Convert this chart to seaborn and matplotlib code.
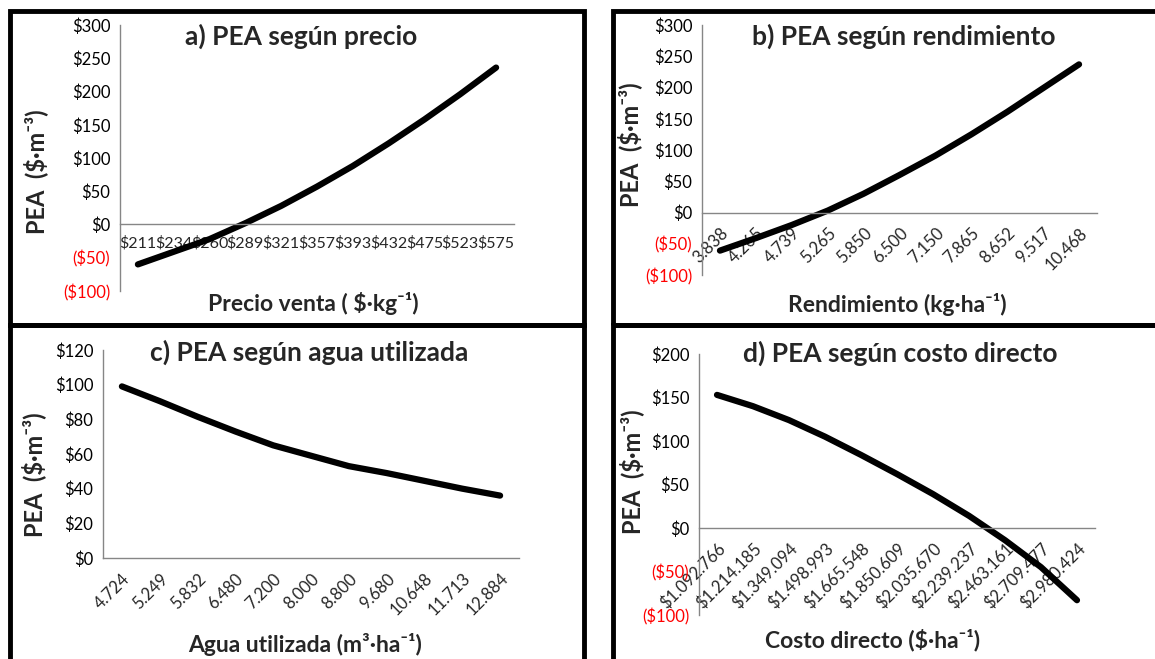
import matplotlib
matplotlib.use("Agg")
import matplotlib.pyplot as plt
from matplotlib.patches import Rectangle
import seaborn as sns

# values
precio_labels = ["$211", "$234", "$260", "$289", "$321", "$357", "$393", "$432", "$475", "$523", "$575"]
pea_precio = [-60, -41, -22, 2, 28, 57, 88, 122, 158, 196, 236]

rend_labels = ["3.838", "4.265", "4.739", "5.265", "5.850", "6.500", "7.150", "7.865", "8.652", "9.517", "10.468"]
pea_rend = [-61, -41, -20, 3, 30, 60, 91, 125, 161, 199, 237]

agua_labels = ["4.724", "5.249", "5.832", "6.480", "7.200", "8.000", "8.800", "9.680", "10.648", "11.713", "12.884"]
pea_agua = [99, 90.5, 81.5, 73, 65, 59, 53, 49, 44.5, 40, 36]

costo_labels = ["$1.092.766", "$1.214.185", "$1.349.094", "$1.498.993", "$1.665.548", "$1.850.609",
                "$2.035.670", "$2.239.237", "$2.463.161", "$2.709.477", "$2.980.424"]
pea_costo = [153, 140, 124, 105, 84, 62, 39, 14, -14, -45, -83]

sns.set_style("white")
plt.rcParams["font.family"] = ["Lato", "DejaVu Sans"]
plt.rcParams["text.parse_math"] = False

W, H = 1155, 659
fig = plt.figure(figsize=(W / 100, H / 100), dpi=100)


def px_axes(x0, y0, x1, y1):
    # pixel box (top-left origin) -> figure axes
    return fig.add_axes([x0 / W, 1 - y1 / H, (x1 - x0) / W, (y1 - y0) / H])


def money(v):
    return f"${v:.0f}" if v >= 0 else f"(${-v:.0f})"


GRAY = "#868686"


def panel(ax, labels, values, yticks, rotate, zero_axis):
    for s in ["top", "right"]:
        ax.spines[s].set_visible(False)
    for s in ["left", "bottom"]:
        ax.spines[s].set_color(GRAY)
        ax.spines[s].set_linewidth(1)
    if zero_axis:
        ax.spines["bottom"].set_position(("data", 0))

    pos = list(range(len(labels)))
    sns.lineplot(x=pos, y=values, ax=ax, color="black", linewidth=4.5, solid_capstyle="round")
    ax.set_xlim(-0.5, len(labels) - 0.5)
    ax.set_ylim(yticks[0], yticks[-1])
    ax.set_yticks(yticks)
    ax.set_yticklabels([money(v) for v in yticks], fontsize=12)
    for t, v in zip(ax.get_yticklabels(), yticks):
        t.set_color("red" if v < 0 else "black")
    ax.set_xticks(pos)
    if rotate:
        ax.set_xticklabels(labels, fontsize=12, rotation=45, ha="right", rotation_mode="anchor")
    else:
        ax.set_xticklabels(labels, fontsize=11.5)
    ax.set_xticks([p - 0.5 for p in pos] + [len(labels) - 0.5], minor=True)
    ax.tick_params(axis="x", which="major", length=0, pad=8 if not rotate else 9)
    ax.tick_params(axis="x", which="minor", length=5, width=1, color=GRAY, direction="out")
    ax.tick_params(axis="y", length=4, width=1, color=GRAY, direction="out", pad=3)
    ax.set_xlabel("")
    ax.set_ylabel("")
    ax.patch.set_alpha(0)


ax_a = px_axes(120, 25, 514, 291)
panel(ax_a, precio_labels, pea_precio, list(range(-100, 301, 50)), False, True)
ax_b = px_axes(702, 25, 1097, 275)
panel(ax_b, rend_labels, pea_rend, list(range(-100, 301, 50)), True, True)
ax_c = px_axes(103, 350, 519, 558)
panel(ax_c, agua_labels, pea_agua, list(range(0, 121, 20)), True, False)
ax_d = px_axes(699, 354, 1095, 615)
panel(ax_d, costo_labels, pea_costo, list(range(-100, 201, 50)), True, True)


def ftext(x, y, s, **kw):
    fig.text(x / W, 1 - y / H, s, ha="center", va="center", fontweight="bold", **kw)


ftext(301, 36, "a) PEA según precio", fontsize=19)
ftext(904, 36, "b) PEA según rendimiento", fontsize=19)
ftext(309, 352, "c) PEA según agua utilizada", fontsize=19)
ftext(900, 353, "d) PEA según costo directo", fontsize=19)

ftext(313, 304, "Precio venta ( $·kg⁻¹)", fontsize=16.5)
ftext(897, 305, "Rendimiento (kg·ha⁻¹)", fontsize=16.5)
ftext(305, 645, "Agua utilizada (m³·ha⁻¹)", fontsize=16.5)
ftext(873, 640, "Costo directo ($·ha⁻¹)", fontsize=16.5)

ylab = "PEA  ($·m⁻³)"
ftext(36, 172, ylab, fontsize=17, rotation=90)
ftext(630, 145, ylab, fontsize=17, rotation=90)
ftext(34, 475, ylab, fontsize=17, rotation=90)
ftext(632, 472, ylab, fontsize=17, rotation=90)

# thick panel frames
for x0, y0, x1, y1 in [(10, 11, 584, 325), (613, 11, 1170, 325),
                       (10, 325, 584, 675), (613, 325, 1170, 675)]:
    fig.add_artist(Rectangle((x0 / W, 1 - y1 / H), (x1 - x0) / W, (y1 - y0) / H,
                             transform=fig.transFigure, fill=False, ec="black", lw=3.5, clip_on=False))

fig.savefig("out.png", dpi=100)
